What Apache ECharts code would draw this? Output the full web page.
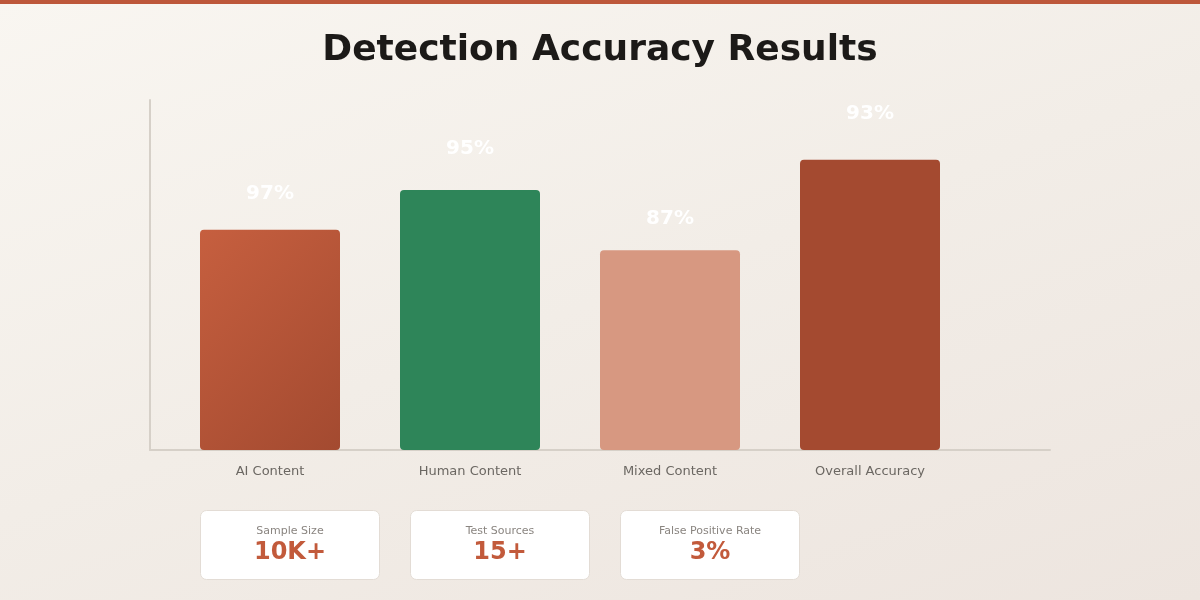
<!DOCTYPE html>
<html>
<head>
<meta charset="utf-8">
<script src="https://cdn.jsdelivr.net/npm/echarts@6/dist/echarts.min.js"></script>
<style>
  html, body { margin: 0; padding: 0; }
  body {
    width: 1200px; height: 600px; overflow: hidden;
    background: linear-gradient(160deg, #f9f6f1 0%, #f2ede7 50%, #ede5df 100%);
  }
  #topbar { position: absolute; left: 0; top: 0; width: 1200px; height: 4px; background: #bd573a; }
  #chart { position: absolute; left: 0; top: 0; width: 1200px; height: 600px; }
</style>
</head>
<body>
<div id="topbar"></div>
<div id="chart"></div>
<script>
// categories and values
const categories = ['AI Content', 'Human Content', 'Mixed Content', 'Overall Accuracy'];
// drawn bar heights (the bars are not scaled to their labels)
const barHeights = [62.9, 74.3, 57.1, 82.9];
const barLabels = ['97%', '95%', '87%', '93%'];
const labelGaps = [26, 31, 21, 36];
const statLabels = ['Sample Size', 'Test Sources', 'False Positive Rate'];
const statValues = ['10K+', '15+', '3%'];

// 45deg diagonal like the css one, on a 140 x 220 bar
const barColors = [
  new echarts.graphic.LinearGradient(0, 0, 1.29, 0.82, [
    {offset: 0, color: '#c65f3f'},
    {offset: 1, color: '#a34a30'}
  ]),
  '#2e8559',
  '#d79881',
  '#a44a30'
];

const font = '"DejaVu Sans", sans-serif';

// stat cards under the chart
const cards = [];
statLabels.forEach((lab, i) => {
  const x = 200 + i * 210;
  cards.push({
    type: 'rect',
    shape: {x: x + 0.5, y: 510.5, width: 179, height: 69, r: 6},
    style: {fill: '#ffffff', stroke: '#e3dcd5', lineWidth: 1},
    silent: true
  });
  cards.push({
    type: 'text',
    x: x + 90, y: 531,
    style: {text: lab, fill: '#8a8580', font: '11px ' + font, align: 'center', verticalAlign: 'middle'}
  });
  cards.push({
    type: 'text',
    x: x + 90, y: 553,
    style: {text: statValues[i], fill: '#c25a3b', font: 'bold 24px ' + font, align: 'center', verticalAlign: 'middle'}
  });
});

const chart = echarts.init(document.getElementById('chart'));
chart.setOption({
  backgroundColor: 'transparent',
  animation: false,
  title: {
    text: 'Detection Accuracy Results',
    left: 'center',
    top: 28,
    textStyle: {fontFamily: font, fontSize: 36, fontWeight: 'bold', color: '#1c1a18'}
  },
  grid: [
    {left: 170, right: 230, top: 100, bottom: 150},
    {left: 150, right: 150, top: 100, bottom: 150}
  ],
  xAxis: [{
    type: 'category',
    gridIndex: 0,
    data: categories,
    axisLine: {show: false},
    axisTick: {show: false},
    axisLabel: {fontFamily: font, fontSize: 13, color: '#6b6762', margin: 15}
  }, {
    type: 'value',
    gridIndex: 1,
    min: 0, max: 1,
    axisLine: {show: true, lineStyle: {color: '#d6d0c8', width: 2}},
    axisTick: {show: false},
    axisLabel: {show: false},
    splitLine: {show: false}
  }],
  yAxis: [{
    type: 'value',
    gridIndex: 0,
    min: 0, max: 100,
    show: false
  }, {
    type: 'value',
    gridIndex: 1,
    min: 0, max: 1,
    axisLine: {show: true, lineStyle: {color: '#d6d0c8', width: 2}},
    axisTick: {show: false},
    axisLabel: {show: false},
    splitLine: {show: false}
  }],
  series: [{
    type: 'bar',
    xAxisIndex: 0,
    yAxisIndex: 0,
    barWidth: 140,
    z: 3,
    data: barHeights.map((v, i) => ({
      value: v,
      itemStyle: {color: barColors[i], borderRadius: 4},
      label: {
        show: true,
        position: 'top',
        distance: labelGaps[i],
        formatter: barLabels[i],
        color: '#ffffff',
        fontFamily: font,
        fontSize: 20,
        fontWeight: 'bold'
      }
    }))
  }],
  graphic: cards
});
</script>
</body>
</html>
